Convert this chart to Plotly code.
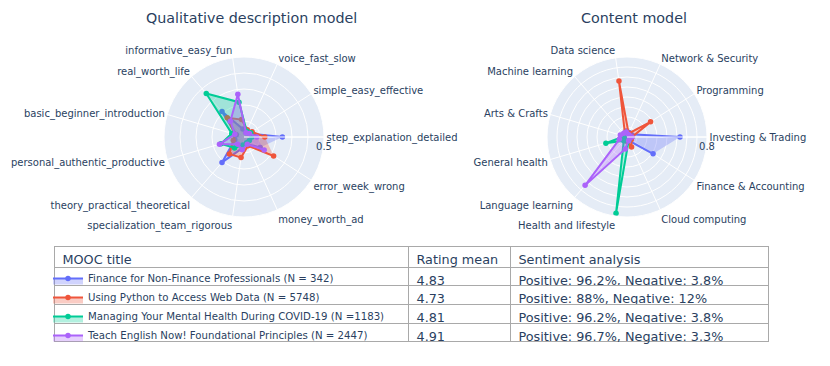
import plotly.graph_objects as go

# axes of the two radar charts (counter-clockwise from 3 o'clock)
qual_labels = ['step_explanation_detailed', 'simple_easy_effective', 'voice_fast_slow',
               'informative_easy_fun', 'real_worth_life', 'basic_beginner_introduction',
               'personal_authentic_productive', 'theory_practical_theoretical',
               'specialization_team_rigorous', 'money_worth_ad', 'error_week_wrong']
content_labels = ['Investing & Trading', 'Programming', 'Network & Security', 'Data science',
                  'Machine learning', 'Arts & Crafts', 'General health', 'Language learning',
                  'Health and lifestyle', 'Cloud computing', 'Finance & Accounting']

course_names = ['Finance for Non-Finance Professionals (N = 342)',
                'Using Python to Access Web Data (N = 5748)',
                'Managing Your Mental Health During COVID-19 (N =1183)',
                'Teach English Now! Foundational Principles (N = 2447)']
course_colors = ['#636efa', '#EF553B', '#00cc96', '#ab63fa']
course_fills = ['rgba(99,110,250,0.3)', 'rgba(239,85,59,0.3)',
                'rgba(0,204,150,0.3)', 'rgba(171,99,250,0.3)']

#===== qualitative description model =====#
qual_finance = [0.24, 0.04, 0.03, 0.05, 0.21, 0.05, 0.06, 0.21, 0.07, 0.05, 0.12]
qual_python = [0.13, 0.06, 0.05, 0.11, 0.16, 0.06, 0.07, 0.14, 0.13, 0.06, 0.22]
qual_mental = [0.05, 0.05, 0.04, 0.22, 0.36, 0.08, 0.15, 0.09, 0.05, 0.04, 0.04]
qual_english = [0.08, 0.04, 0.03, 0.27, 0.13, 0.06, 0.16, 0.06, 0.08, 0.05, 0.15]

#===== content model =====#
content_finance = [0.53, 0.05, 0.05, 0.06, 0.03, 0.02, 0.03, 0.03, 0.04, 0.04, 0.31]
content_python = [0.05, 0.28, 0.04, 0.565, 0.03, 0.02, 0.03, 0.03, 0.04, 0.11, 0.05]
content_mental = [0.02, 0.02, 0.02, 0.03, 0.02, 0.03, 0.22, 0.05, 0.77, 0.04, 0.02]
content_english = [0.05, 0.03, 0.03, 0.05, 0.05, 0.07, 0.08, 0.64, 0.12, 0.04, 0.03]

#===== table =====#
table_header = ['MOOC title', 'Rating mean', 'Sentiment analysis']
rating_mean = ['4.83', '4.73', '4.81', '4.91']
sentiment = ['Positive: 96.2%, Negative: 3.8%',
             'Positive: 88%, Negative: 12%',
             'Positive: 96.2%, Negative: 3.8%',
             'Positive: 96.7%, Negative: 3.3%']

qual_values = [qual_finance, qual_python, qual_mental, qual_english]
content_values = [content_finance, content_python, content_mental, content_english]

W, H = 830, 366
FONT = 'DejaVu Sans'
TXT = '#2a3f5f'

fig = go.Figure()

for i in range(4):
    fig.add_trace(go.Scatterpolar(
        r=qual_values[i], theta=qual_labels, subplot='polar',
        mode='lines+markers', fill='toself', fillcolor=course_fills[i],
        name=course_names[i],
        line=dict(color=course_colors[i], width=2), marker=dict(size=5.5)))
for i in range(4):
    fig.add_trace(go.Scatterpolar(
        r=content_values[i], theta=content_labels, subplot='polar2',
        mode='lines+markers', fill='toself', fillcolor=course_fills[i],
        name=course_names[i],
        line=dict(color=course_colors[i], width=2), marker=dict(size=5.5),
        showlegend=False))

# page body adds an 8px offset, positions below are in figure pixels
fig.add_trace(go.Table(
    domain=dict(x=[46.5 / W, 760.5 / W], y=[0, 1 - 238.8 / H]),
    columnwidth=[354, 102, 258],
    header=dict(values=table_header, align='left', fill_color='white',
                line_color='darkgray', height=20.3,
                font=dict(family=FONT, size=12.8, color=TXT)),
    cells=dict(values=[[''] * 4, rating_mean, sentiment], align='left',
               fill_color='white', line_color='darkgray', height=18.7,
               font=dict(family=FONT, size=12.8, color=TXT))))


def radar(cx, cy, rad, rmax):
    n = round(rmax * 10)
    return dict(
        domain=dict(x=[(cx - rad) / W, (cx + rad) / W],
                    y=[1 - (cy + rad) / H, 1 - (cy - rad) / H]),
        radialaxis=dict(range=[0, rmax],
                        tickvals=[rmax * k / n for k in range(1, n + 1)],
                        ticktext=[''] * (n - 1) + [str(rmax)],
                        tickfont=dict(size=10)),
        angularaxis=dict(tickfont=dict(size=10)))


fig.update_layout(
    width=W, height=H,
    margin=dict(l=0, r=0, t=0, b=0),
    font=dict(family=FONT, color=TXT),
    template='plotly',
    polar=radar(236, 129, 80, 0.5),
    polar2=radar(619, 129, 80, 0.8),
    legend=dict(x=40 / W, y=1 - 256 / H, xanchor='left', yanchor='top',
                bgcolor='rgba(0,0,0,0)', font=dict(size=10.2)),
    annotations=[
        dict(text='Qualitative description model', x=243 / W, y=1 - 10 / H,
             xref='paper', yref='paper', xanchor='center', yanchor='middle',
             showarrow=False, font=dict(size=14.3)),
        dict(text='Content model', x=625.5 / W, y=1 - 10 / H,
             xref='paper', yref='paper', xanchor='center', yanchor='middle',
             showarrow=False, font=dict(size=14.3)),
    ])

fig.write_html('out.html')
